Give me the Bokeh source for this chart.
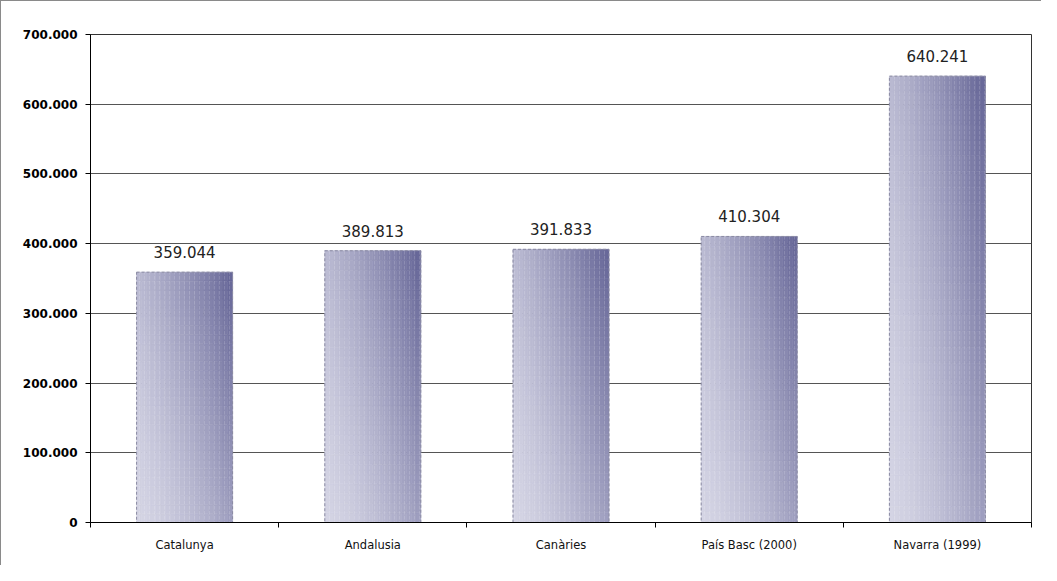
from bokeh.plotting import figure
from bokeh.models import FixedTicker, Range1d, ColumnDataSource
from bokeh.core.properties import value
from bokeh.embed import file_html
from bokeh.resources import INLINE

# ---- data ----
categories = ["Catalunya", "Andalusia", "Canàries", "País Basc (2000)", "Navarra (1999)"]
values = [359044, 389813, 391833, 410304, 640241]
y_ticks = [0, 100000, 200000, 300000, 400000, 500000, 600000, 700000]


def fmt(v):
    return f"{v:,}".replace(",", ".")


value_labels = [fmt(v) for v in values]
x_pos = list(range(len(categories)))

FONT = "DejaVu Sans"

p = figure(width=1041, height=565, output_backend="svg", toolbar_location=None,
           x_range=Range1d(-0.5, len(categories) - 0.5), y_range=Range1d(0, 700000))
p.min_border_left = 89
p.min_border_right = 11
p.min_border_top = 33
p.min_border_bottom = 44
p.background_fill_color = "white"
p.border_fill_color = "white"
p.outline_line_color = "#333333"
p.outline_line_width = 1
p.styles = {"border-left": "1px solid #8a8a8a", "border-top": "1px solid #8a8a8a"}

# grid
p.xgrid.grid_line_color = None
p.ygrid.ticker = FixedTicker(ticks=y_ticks)
p.ygrid.grid_line_color = "#555555"
p.ygrid.grid_line_width = 1

# gradient bars (diagonal: light bottom-left -> dark top-right)
bw = 0.51
nx, ny = 20, 28
c0 = (212, 212, 228)
c1 = (100, 100, 150)
L, R, B, T, C = [], [], [], [], []
for i, v in zip(x_pos, values):
    for j in range(nx):
        for k in range(ny):
            t = 0.62 * (j + 0.5) / nx + 0.38 * (k + 0.5) / ny
            t = t ** 1.5
            col = "#%02x%02x%02x" % tuple(int(round(a + (b - a) * t)) for a, b in zip(c0, c1))
            L.append(i - bw / 2 + j * bw / nx)
            R.append(i - bw / 2 + (j + 1) * bw / nx)
            B.append(v * k / ny)
            T.append(v * (k + 1) / ny)
            C.append(col)
src = ColumnDataSource(dict(left=L, right=R, bottom=B, top=T, color=C))
p.quad(left="left", right="right", bottom="bottom", top="top", source=src,
       fill_color="color", line_color="color", line_width=0.6)

# texture + outline
p.vbar(x=x_pos, top=values, width=bw, fill_color=None,
       hatch_pattern="vertical_dash", hatch_color="white", hatch_alpha=0.15,
       hatch_scale=5, hatch_weight=1,
       line_color="#8a8aa2", line_width=1, line_dash="3 2")

# value labels
p.text(x=x_pos, y=values, text=value_labels, text_align="center",
       text_baseline="alphabetic", y_offset=-20,
       text_font=value(FONT), text_font_size="15px", text_color="#222222")

# y axis
ya = p.yaxis[0]
ya.ticker = FixedTicker(ticks=y_ticks)
ya.major_label_overrides = {t: fmt(t) for t in y_ticks}
ya.major_label_text_font = FONT
ya.major_label_text_font_style = "bold"
ya.major_label_text_font_size = "12px"
ya.major_label_text_color = "black"
ya.axis_line_color = "black"
ya.major_tick_line_color = "black"
ya.major_tick_out = 5
ya.major_tick_in = 0
ya.minor_tick_line_color = None
ya.major_label_standoff = 8

# x axis
xa = p.xaxis[0]
xa.ticker = FixedTicker(ticks=x_pos, minor_ticks=[i - 0.5 for i in range(len(categories) + 1)])
xa.major_label_overrides = {i: c for i, c in zip(x_pos, categories)}
xa.major_label_text_font = FONT
xa.major_label_text_font_size = "11.5px"
xa.major_label_text_color = "#111111"
xa.axis_line_color = "black"
xa.major_tick_line_color = None
xa.major_tick_out = 0
xa.major_tick_in = 0
xa.minor_tick_line_color = "black"
xa.minor_tick_out = 5
xa.minor_tick_in = 0
xa.major_label_standoff = 10

open("out.html", "w").write(file_html(p, INLINE))
